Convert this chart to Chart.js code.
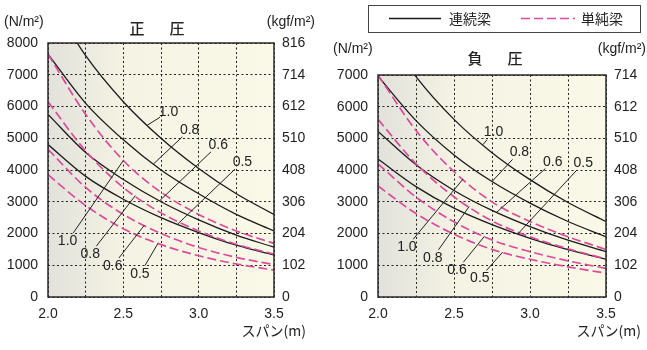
<!DOCTYPE html>
<html>
<head>
<meta charset="utf-8">
<script src="https://cdn.jsdelivr.net/npm/chart.js@4.4.1/dist/chart.umd.min.js"></script>
<style>
html,body{margin:0;padding:0;background:#fff;}
#wrap{position:relative;width:647px;height:350px;overflow:hidden;}
#wrap canvas{position:absolute;top:0;}
#posChart{left:0;}
#negChart{left:323px;}
</style>
</head>
<body>
<div id="wrap">
<canvas id="posChart" width="323" height="350"></canvas>
<canvas id="negChart" width="324" height="350"></canvas>
</div>
<script>

// ================================
// DATA
// ================================

const spans = [2.0, 2.25, 2.5, 2.75, 3.0, 3.25, 3.5];
const spanTickLabels = ['2.0', '2.5', '3.0', '3.5'];
const ratioLabels = ['1.0', '0.8', '0.6', '0.5'];

// 正圧  N/m2  (連続梁 = solid, 単純梁 = dashed)
const posCont10 = [9500, 7600, 6150, 5000, 4050, 3250, 2600];
const posCont08 = [7650, 6100, 4950, 4000, 3250, 2600, 2080];
const posCont06 = [5750, 4550, 3700, 3000, 2430, 1950, 1570];
const posCont05 = [4800, 3800, 3080, 2500, 2030, 1630, 1320];
const posSimp10 = [7650, 5750, 4300, 3300, 2600, 2080, 1690];
const posSimp08 = [6150, 4600, 3450, 2650, 2080, 1660, 1350];
const posSimp06 = [4650, 3450, 2600, 2000, 1560, 1250, 1020];
const posSimp05 = [3850, 2880, 2150, 1650, 1300, 1040, 850];

// 負圧  N/m2
const negCont10 = [8700, 6950, 5600, 4550, 3700, 2980, 2380];
const negCont08 = [6960, 5560, 4480, 3640, 2960, 2380, 1900];
const negCont06 = [5220, 4170, 3360, 2730, 2220, 1790, 1430];
const negCont05 = [4350, 3480, 2800, 2280, 1850, 1490, 1190];
const negSimp10 = [7000, 5250, 3950, 3000, 2380, 1900, 1500];
const negSimp08 = [5600, 4200, 3160, 2400, 1900, 1520, 1200];
const negSimp06 = [4200, 3150, 2370, 1800, 1430, 1140, 900];
const negSimp05 = [3500, 2630, 1980, 1500, 1190, 950, 750];

// axis ticks
const posNTicks = [0, 1000, 2000, 3000, 4000, 5000, 6000, 7000, 8000];
const posKgfTicks = [0, 102, 204, 306, 408, 510, 612, 714, 816];
const negNTicks = [0, 1000, 2000, 3000, 4000, 5000, 6000, 7000];
const negKgfTicks = [0, 102, 204, 306, 408, 510, 612, 714];

// ratio labels: span where the leader meets the curve, and where the number sits (span, N/m2)
const posContAt = [2.66, 2.70, 2.74, 2.86];
const posContTextX = [2.80, 2.94, 3.13, 3.29];
const posContTextY = [5830, 5260, 4790, 4250];
const posSimpAt = [2.50, 2.58, 2.64, 2.73];
const posSimpTextX = [2.13, 2.28, 2.43, 2.61];
const posSimpTextY = [1760, 1350, 980, 720];

const negContAt = [2.69, 2.75, 2.78, 2.92];
const negContTextX = [2.76, 2.93, 3.15, 3.35];
const negContTextY = [5200, 4570, 4260, 4220];
const negSimpAt = [2.56, 2.60, 2.70, 2.82];
const negSimpTextX = [2.19, 2.36, 2.52, 2.67];
const negSimpTextY = [1580, 1230, 850, 600];


const numFont = "'Liberation Sans', Arial, sans-serif";
const jpFont = "'Noto Sans CJK JP', sans-serif";
const solidColor = '#1a1a1a';
const dashColor = '#dc4a9c';


function lineSet(values, dashed){
  return {
    data: spans.map((s, i) => ({x: s, y: values[i]})),
    borderColor: dashed ? dashColor : solidColor,
    borderWidth: dashed ? 1.7 : 1.3,
    borderDash: dashed ? [9, 4] : [],
    pointRadius: 0,
    cubicInterpolationMode: 'monotone',
    fill: false,
    yAxisID: 'y'
  };
}

function valueAt(values, s){
  for(let i = 0; i < spans.length - 1; i++){
    if(s >= spans[i] && s <= spans[i + 1]){
      const t = (s - spans[i]) / (spans[i + 1] - spans[i]);
      return values[i] + t * (values[i + 1] - values[i]);
    }
  }
  return values[values.length - 1];
}

function makeScales(nTicks, kgfTicks, leftW, rightW){
  const gridStyle = {color: '#222', lineWidth: 1, drawTicks: false};
  const tickFont = {family: numFont, size: 14};
  return {
    x: {
      type: 'linear', min: spans[0], max: spans[spans.length - 1],
      afterBuildTicks: s => { s.ticks = spans.map(v => ({value: v})); },
      afterFit: s => { s.height = 53; },
      grid: gridStyle,
      border: {display: false, dash: [2, 2.5]},
      ticks: {
        autoSkip: false, maxRotation: 0, padding: 9, color: '#222', font: tickFont,
        callback: v => spanTickLabels.find(t => Math.abs(parseFloat(t) - v) < 1e-6) || ''
      }
    },
    y: {
      type: 'linear', position: 'left', min: nTicks[0], max: nTicks[nTicks.length - 1],
      afterBuildTicks: s => { s.ticks = nTicks.map(v => ({value: v})); },
      afterFit: s => { s.width = leftW; },
      grid: gridStyle,
      border: {display: false, dash: [2, 2.5]},
      ticks: {padding: 10, color: '#222', font: tickFont, callback: v => String(v)}
    },
    y2: {
      type: 'linear', position: 'right', min: kgfTicks[0], max: kgfTicks[kgfTicks.length - 1],
      afterBuildTicks: s => { s.ticks = kgfTicks.map(v => ({value: v})); },
      afterFit: s => { s.width = rightW; },
      grid: {display: false, drawTicks: false},
      border: {display: false},
      ticks: {padding: 8, color: '#222', font: tickFont, callback: v => String(v)}
    }
  };
}


// ================================
// BACKGROUND, FRAME AND TEXT
// ================================

const decorPlugin = {
  id: 'decor',
  beforeDraw(chart){
    const a = chart.chartArea, ctx = chart.ctx;
    const g = ctx.createLinearGradient(a.left, 0, a.right, 0);
    g.addColorStop(0, '#e2e2dc');
    g.addColorStop(0.35, '#f5f3e3');
    g.addColorStop(1, '#faf8e7');
    ctx.save();
    ctx.fillStyle = g;
    ctx.fillRect(a.left, a.top, a.width, a.height);
    ctx.restore();
  },
  afterDraw(chart, args, o){
    const a = chart.chartArea, ctx = chart.ctx;
    const xs = chart.scales.x, ys = chart.scales.y;
    ctx.save();

    // frame
    ctx.strokeStyle = '#2a2a2a';
    ctx.lineWidth = 1.5;
    ctx.strokeRect(a.left, a.top, a.width, a.height);

    // units
    ctx.fillStyle = '#222';
    ctx.font = '14px ' + numFont;
    ctx.textBaseline = 'middle';
    ctx.textAlign = 'left';
    ctx.fillText('(N/m²)', o.unitLeftX, o.unitY);
    ctx.textAlign = 'right';
    ctx.fillText('(kgf/m²)', o.unitRightX, o.unitY);

    // title
    ctx.font = '500 15px ' + jpFont;
    ctx.textAlign = 'center';
    ctx.fillText(o.title[0], o.titleX - 20, o.titleY);
    ctx.fillText(o.title[1], o.titleX + 20, o.titleY);

    // x axis title
    ctx.font = '14px ' + jpFont;
    ctx.textAlign = 'right';
    ctx.fillText('スパン(m)', o.spanX, 331);

    // ratio labels with leaders
    ctx.font = '14px ' + numFont;
    ctx.textAlign = 'center';
    ctx.lineWidth = 1;
    ctx.strokeStyle = '#222';
    o.labels.forEach(grp => {
      ratioLabels.forEach((txt, i) => {
        const px = xs.getPixelForValue(grp.at[i]);
        const py = ys.getPixelForValue(valueAt(grp.series[i], grp.at[i]));
        const tx = xs.getPixelForValue(grp.tx[i]);
        const ty = ys.getPixelForValue(grp.ty[i]);
        const dx = px - tx, dy = py - ty, d = Math.hypot(dx, dy);
        ctx.beginPath();
        ctx.moveTo(px, py);
        ctx.lineTo(tx + dx / d * 10, ty + dy / d * 10);
        ctx.stroke();
        ctx.fillText(txt, tx, ty);
      });
    });

    // legend box
    if(o.legend){
      ctx.strokeStyle = '#444';
      ctx.lineWidth = 1;
      ctx.strokeRect(45.5, 5.5, 272, 27);
      ctx.strokeStyle = solidColor;
      ctx.lineWidth = 1.3;
      ctx.beginPath(); ctx.moveTo(66, 18.5); ctx.lineTo(118, 18.5); ctx.stroke();
      ctx.strokeStyle = dashColor;
      ctx.lineWidth = 1.7;
      ctx.setLineDash([9, 4]);
      ctx.beginPath(); ctx.moveTo(198, 18.5); ctx.lineTo(252, 18.5); ctx.stroke();
      ctx.setLineDash([]);
      ctx.font = '14px ' + jpFont;
      ctx.textAlign = 'left';
      ctx.fillText('連続梁', 126, 19);
      ctx.fillText('単純梁', 258, 19);
    }
    ctx.restore();
  }
};


// ================================
// 正圧 CHART
// ================================

const posCtx = document.getElementById('posChart');

if(posCtx){
  new Chart(posCtx, {
    type: 'line',
    data: {
      datasets: [
        lineSet(posSimp10, true), lineSet(posSimp08, true),
        lineSet(posSimp06, true), lineSet(posSimp05, true),
        lineSet(posCont10, false), lineSet(posCont08, false),
        lineSet(posCont06, false), lineSet(posCont05, false)
      ]
    },
    options: {
      responsive: false,
      animation: false,
      events: [],
      layout: {padding: {top: 43, left: 0, right: 0, bottom: 0}},
      scales: makeScales(posNTicks, posKgfTicks, 48, 49),
      plugins: {
        legend: {display: false},
        tooltip: {enabled: false},
        decor: {
          title: ['正', '圧'], titleX: 157, titleY: 28,
          unitY: 22, unitLeftX: 4, unitRightX: 315, spanX: 306,
          legend: false,
          labels: [
            {series: [posCont10, posCont08, posCont06, posCont05], at: posContAt, tx: posContTextX, ty: posContTextY},
            {series: [posSimp10, posSimp08, posSimp06, posSimp05], at: posSimpAt, tx: posSimpTextX, ty: posSimpTextY}
          ]
        }
      }
    },
    plugins: [decorPlugin]
  });
}


// ================================
// 負圧 CHART
// ================================

const negCtx = document.getElementById('negChart');

if(negCtx){
  new Chart(negCtx, {
    type: 'line',
    data: {
      datasets: [
        lineSet(negSimp10, true), lineSet(negSimp08, true),
        lineSet(negSimp06, true), lineSet(negSimp05, true),
        lineSet(negCont10, false), lineSet(negCont08, false),
        lineSet(negCont06, false), lineSet(negCont05, false)
      ]
    },
    options: {
      responsive: false,
      animation: false,
      events: [],
      layout: {padding: {top: 75, left: 0, right: 0, bottom: 0}},
      scales: makeScales(negNTicks, negKgfTicks, 55, 41),
      plugins: {
        legend: {display: false},
        tooltip: {enabled: false},
        decor: {
          title: ['負', '圧'], titleX: 172, titleY: 58,
          unitY: 49, unitLeftX: 10, unitRightX: 323, spanX: 318,
          legend: true,
          labels: [
            {series: [negCont10, negCont08, negCont06, negCont05], at: negContAt, tx: negContTextX, ty: negContTextY},
            {series: [negSimp10, negSimp08, negSimp06, negSimp05], at: negSimpAt, tx: negSimpTextX, ty: negSimpTextY}
          ]
        }
      }
    },
    plugins: [decorPlugin]
  });
}

</script>
</body>
</html>
